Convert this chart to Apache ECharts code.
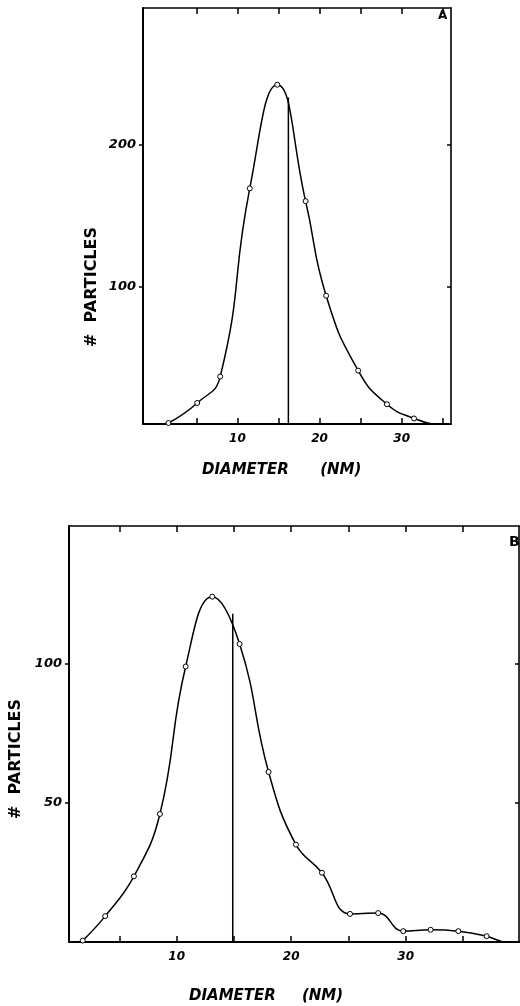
<!DOCTYPE html>
<html><head><meta charset="utf-8">
<script src="https://cdn.jsdelivr.net/npm/echarts@6/dist/echarts.min.js"></script>
<style>html,body{margin:0;padding:0;background:#fff}#c{width:520px;height:1006px}</style>
</head><body><div id="c"></div>
<script>
// Panel A data
const diamA = [1.6, 5.1, 7.9, 11.5, 14.85, 18.3, 20.8, 24.7, 28.2, 31.5, 34.6];
const countA = [3.8, 17.9, 36.5, 169, 242, 160, 93.4, 40.7, 17, 7, 2];
const medianA = 16.2, medianTopA = 233;
// Panel B data
const diamB = [1.8, 3.76, 6.27, 8.54, 10.79, 13.11, 15.5, 18.03, 20.42, 22.69, 25.14, 27.6, 29.79, 32.18, 34.6, 37.07, 38.8, 40];
const countB = [0.5, 9.3, 23.6, 46.0, 99.0, 124.1, 107.1, 61.1, 35.0, 24.9, 10.1, 10.4, 3.9, 4.4, 3.9, 2.1, 0, 0];
const medianB = 14.9, medianTopB = 118;
// ticks and labels
const xTickVals = [5, 10, 15, 20, 25, 30, 35];
const xLabelVals = [10, 20, 30];
const yTickA = [100, 200];
const yTickB = [50, 100];
const xRangeA = [-1.5, 36], yRangeA = [3.1, 296];
const xRangeB = [0.6, 39.9], yRangeB = [0, 149.5];

const FONT = 'DejaVu Sans';
const ptsA = diamA.map((d, i) => [d, countA[i]]);
const ptsB = diamB.map((d, i) => [d, countB[i]]);
const nMarkB = 16; // points drawn with circles in B

function xAx(grid, range, pos, labels) {
  return {
    type: 'value', gridIndex: grid, min: range[0], max: range[1], position: pos,
    axisLine: {show: true, onZero: false, lineStyle: {color: '#000', width: pos === 'bottom' ? 2 : 1.6}},
    axisTick: {show: true, inside: true, length: 6, customValues: xTickVals, lineStyle: {color: '#000', width: 1.5}},
    axisLabel: labels ? {show: true, customValues: xLabelVals, margin: 9, color: '#000', fontFamily: FONT,
      fontWeight: 'bold', fontStyle: 'italic', fontSize: 12} : {show: false},
    splitLine: {show: false}
  };
}
function yAx(grid, range, pos, ticks, labels) {
  return {
    type: 'value', gridIndex: grid, min: range[0], max: range[1], position: pos,
    axisLine: {show: true, onZero: false, lineStyle: {color: '#000', width: pos === 'left' ? 2 : 1.6}},
    axisTick: {show: true, inside: pos !== 'left', length: 4, customValues: ticks, lineStyle: {color: '#000', width: 1.5}},
    axisLabel: labels ? {show: true, customValues: ticks, margin: 7, color: '#000', fontFamily: FONT,
      fontWeight: 'bold', fontStyle: 'italic', fontSize: 13} : {show: false},
    splitLine: {show: false}
  };
}
const titleStyle = {fontFamily: FONT, fontWeight: 'bold', fontStyle: 'italic', fontSize: 15, fill: '#000'};
const yTitleStyle = {text: '#  PARTICLES', fontFamily: FONT, fontWeight: 'bold', fontSize: 16, fill: '#000', align: 'center', verticalAlign: 'middle'};

const chart = echarts.init(document.getElementById('c'), null, {renderer: 'canvas'});
chart.setOption({
  animation: false,
  backgroundColor: '#fff',
  grid: [
    {left: 143, top: 8, right: 69, bottom: 582},
    {left: 69, top: 526, right: 1, bottom: 64}
  ],
  xAxis: [
    xAx(0, xRangeA, 'bottom', true),
    xAx(0, xRangeA, 'top', false),
    xAx(1, xRangeB, 'bottom', true),
    xAx(1, xRangeB, 'top', false)
  ],
  yAxis: [
    yAx(0, yRangeA, 'left', yTickA, true),
    yAx(0, yRangeA, 'right', yTickA, false),
    yAx(1, yRangeB, 'left', yTickB, true),
    yAx(1, yRangeB, 'right', yTickB, false)
  ],
  series: [
    {type: 'line', xAxisIndex: 0, yAxisIndex: 0, data: ptsA, smooth: 0.5,
      symbol: 'circle', symbolSize: 5, showSymbol: true,
      itemStyle: {color: '#fff', borderColor: '#000', borderWidth: 1},
      lineStyle: {color: '#000', width: 1.5}},
    {type: 'line', xAxisIndex: 0, yAxisIndex: 0, data: [[medianA, yRangeA[0]], [medianA, medianTopA]],
      symbol: 'none', lineStyle: {color: '#000', width: 1.5}},
    {type: 'line', xAxisIndex: 2, yAxisIndex: 2, data: ptsB, smooth: 0.45,
      symbol: (v, p) => p.dataIndex < nMarkB ? 'circle' : 'none', symbolSize: 5, showSymbol: true,
      itemStyle: {color: '#fff', borderColor: '#000', borderWidth: 1},
      lineStyle: {color: '#000', width: 1.5}},
    {type: 'line', xAxisIndex: 2, yAxisIndex: 2, data: [[medianB, 0], [medianB, medianTopB]],
      symbol: 'none', lineStyle: {color: '#000', width: 1.5}}
  ],
  graphic: [
    {type: 'text', left: 202, top: 463, style: Object.assign({text: 'DIAMETER      (NM)'}, titleStyle)},
    {type: 'text', left: 189, top: 989, style: Object.assign({text: 'DIAMETER     (NM)'}, titleStyle)},
    {type: 'text', x: 92, y: 287, rotation: Math.PI / 2, style: yTitleStyle},
    {type: 'text', x: 16, y: 759, rotation: Math.PI / 2, style: yTitleStyle},
    {type: 'text', left: 438, top: 10, style: {text: 'A', fontFamily: FONT, fontWeight: 'bold', fontSize: 12, fill: '#000'}},
    {type: 'text', left: 509, top: 535, style: {text: 'B', fontFamily: FONT, fontWeight: 'bold', fontSize: 14, fill: '#000'}}
  ]
});
</script></body></html>
